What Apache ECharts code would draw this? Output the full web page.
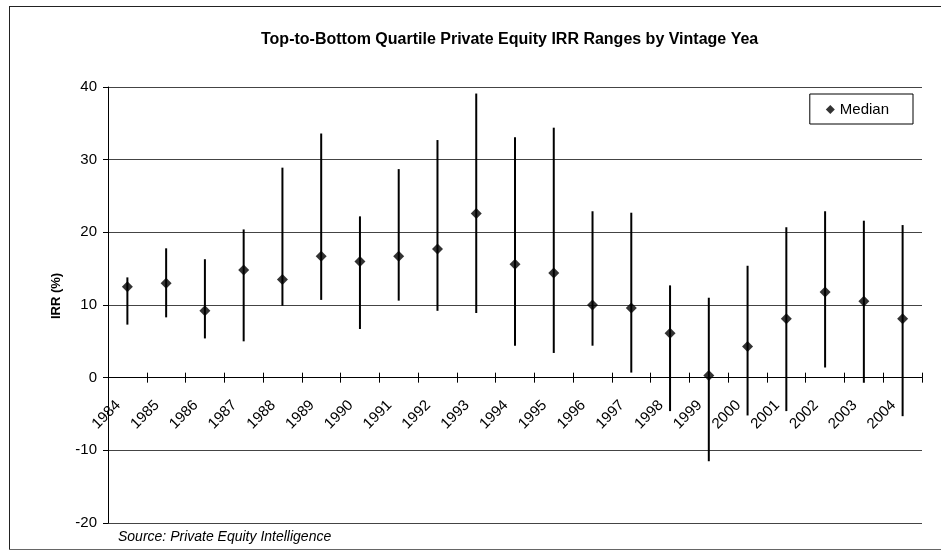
<!DOCTYPE html>
<html>
<head>
<meta charset="utf-8">
<script src="https://cdn.jsdelivr.net/npm/echarts@6/dist/echarts.min.js"></script>
<style>
  html, body { margin: 0; padding: 0; background: #fff; }
  #chart { width: 941px; height: 550px; }
</style>
</head>
<body>
<div id="chart"></div>
<script>
// vintage years and quartile ranges
const years = ['1984','1985','1986','1987','1988','1989','1990','1991','1992','1993','1994',
               '1995','1996','1997','1998','1999','2000','2001','2002','2003','2004'];
const median = [12.5, 13.0, 9.2, 14.8, 13.5, 16.7, 16.0, 16.7, 17.7, 22.6, 15.6,
                14.4, 10.0, 9.6, 6.1, 0.3, 4.3, 8.1, 11.8, 10.5, 8.1];
const topQuartile = [13.8, 17.8, 16.3, 20.4, 28.9, 33.6, 22.2, 28.7, 32.7, 39.1, 33.1,
                     34.4, 22.9, 22.7, 12.7, 11.0, 15.4, 20.7, 22.9, 21.6, 21.0];
const bottomQuartile = [7.3, 8.3, 5.4, 5.0, 9.9, 10.7, 6.7, 10.6, 9.2, 8.9, 4.4,
                        3.4, 4.4, 0.7, -4.6, -11.5, -5.2, -4.6, 1.4, -0.7, -5.3];
const yMin = -20, yMax = 40, yStep = 10;

const FONT = 'Liberation Sans, Arial, sans-serif';
const chart = echarts.init(document.getElementById('chart'));

const rangeData = years.map((y, i) => [i, bottomQuartile[i], topQuartile[i]]);
const gridTop = 87, gridBottom = 27;
const gridBox = { left: 108, right: 19, top: gridTop, bottom: gridBottom, containLabel: false, outerBoundsMode: 'none' };
// labels grid ends on the zero line so the year labels hang under it
const zeroFromBottom = gridBottom + (550 - gridTop - gridBottom) * (0 - yMin) / (yMax - yMin);
const labelBox = { left: 108, right: 19, top: gridTop, bottom: zeroFromBottom, containLabel: false, outerBoundsMode: 'none' };

chart.setOption({
  animation: false,
  backgroundColor: '#fff',
  title: {
    text: 'Top-to-Bottom Quartile Private Equity IRR Ranges by Vintage Yea',
    left: 256, top: 27,
    textStyle: { fontFamily: FONT, fontSize: 16, fontWeight: 'bold', color: '#000' }
  },
  legend: {
    data: [{ name: 'Median', icon: 'diamond' }],
    right: 28, top: 94,
    itemWidth: 9, itemHeight: 9, itemGap: 4,
    padding: [8, 24, 7, 16],
    borderColor: '#000', borderWidth: 1, borderRadius: 0,
    textStyle: { fontFamily: FONT, fontSize: 15, color: '#000' }
  },
  grid: [gridBox, Object.assign({}, gridBox), labelBox],
  xAxis: [{
    type: 'category',
    gridIndex: 0,
    data: years,
    boundaryGap: true,
    axisLine: { onZero: true, lineStyle: { color: '#000', width: 1 } },
    axisTick: { show: true, length: 5, lineStyle: { color: '#000' } },
    axisLabel: { show: false },
    splitLine: { show: false }
  }, {
    // second copy of the axis only for the upward half of the crossing ticks
    type: 'category',
    gridIndex: 1,
    data: years,
    boundaryGap: true,
    axisLine: { onZero: true, lineStyle: { color: '#000', width: 1 } },
    axisTick: { show: true, inside: true, length: 5, lineStyle: { color: '#000' } },
    axisLabel: { show: false },
    splitLine: { show: false }
  }, {
    type: 'category',
    gridIndex: 2,
    data: years,
    boundaryGap: true,
    axisLine: { show: false },
    axisTick: { show: false },
    axisLabel: {
      rotate: 45, interval: 0, margin: 16,
      padding: [0, 13, 0, 0],
      fontFamily: FONT, fontSize: 15, color: '#000'
    },
    splitLine: { show: false }
  }],
  yAxis: [{
    type: 'value',
    gridIndex: 0,
    min: yMin, max: yMax, interval: yStep,
    name: 'IRR (%)',
    nameLocation: 'middle',
    nameGap: 45,
    nameRotate: 90,
    nameTextStyle: { fontFamily: FONT, fontSize: 13, fontWeight: 'bold', color: '#000', padding: [0, 0, 0, 18] },
    axisLine: { show: true, lineStyle: { color: '#000', width: 1 } },
    axisTick: { show: true, length: 5, lineStyle: { color: '#000' } },
    axisLabel: { fontFamily: FONT, fontSize: 15, color: '#000', margin: 11 },
    splitLine: { show: true, lineStyle: { color: '#444', width: 1 } }
  }, {
    type: 'value', gridIndex: 1, min: yMin, max: yMax, interval: yStep, show: false
  }, {
    type: 'value', gridIndex: 2, show: false
  }],
  series: [{
    type: 'custom',
    name: 'Range',
    data: rangeData,
    encode: { x: 0, y: [1, 2] },
    renderItem: function (params, api) {
      const lo = api.coord([api.value(0), api.value(1)]);
      const hi = api.coord([api.value(0), api.value(2)]);
      return {
        type: 'line',
        shape: { x1: lo[0], y1: lo[1], x2: hi[0], y2: hi[1] },
        style: { stroke: '#000', lineWidth: 2 }
      };
    },
    z: 3
  }, {
    type: 'scatter',
    name: 'Median',
    data: median,
    symbol: 'diamond',
    symbolSize: 11,
    itemStyle: { color: '#000' },
    z: 4
  }],
  graphic: [
    { type: 'line', shape: { x1: 9, y1: 6.5, x2: 941, y2: 6.5 }, style: { stroke: '#222', lineWidth: 1 } },
    { type: 'line', shape: { x1: 9.5, y1: 6, x2: 9.5, y2: 550 }, style: { stroke: '#222', lineWidth: 1 } },
    { type: 'line', shape: { x1: 9, y1: 549.5, x2: 941, y2: 549.5 }, style: { stroke: '#666', lineWidth: 1 } },
    {
      type: 'text', left: 118, top: 530,
      style: { text: 'Source: Private Equity Intelligence', font: 'italic 14px ' + FONT, fill: '#000' }
    }
  ]
});
</script>
</body>
</html>
